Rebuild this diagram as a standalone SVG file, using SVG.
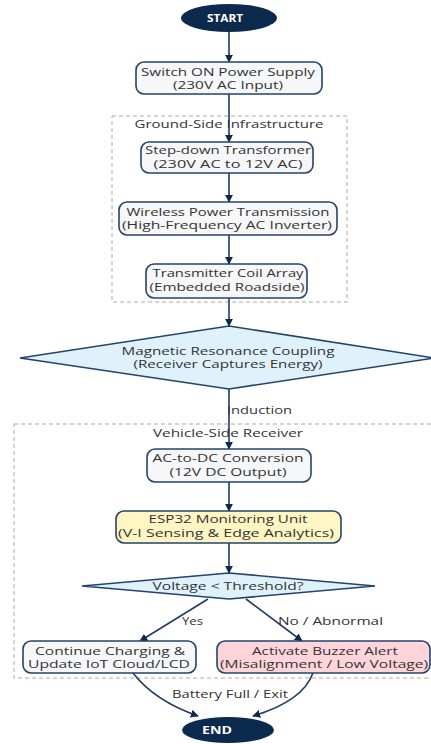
<svg xmlns="http://www.w3.org/2000/svg" width="431" height="744" viewBox="0 0 431 744">
<defs>
<style>
.node{fill:#f6f7f9;stroke:#23446b;stroke-width:1.6}
.term{fill:#0c2a4d;stroke:none}
.dia{fill:#dff2fc;stroke:#23446b;stroke-width:1.6}
.t{font-family:"Open Sans","Noto Sans",sans-serif;font-size:11px;fill:#333;text-anchor:middle}
.tw{font-family:"Open Sans","Noto Sans",sans-serif;font-size:11px;font-weight:bold;fill:#fff;text-anchor:middle}
.lbl{font-family:"Open Sans","Noto Sans",sans-serif;font-size:11px;fill:#333}
.cl{fill:none;stroke:#aaa;stroke-width:1;stroke-dasharray:4,3}
.e{fill:none;stroke:#1e3d63;stroke-width:1.6}
</style>
<marker id="ah" viewBox="0 0 10 10" refX="9" refY="5" markerWidth="8" markerHeight="8" markerUnits="userSpaceOnUse" orient="auto">
<path d="M0,0 L10,5 L0,10 z" fill="#0c2a4d"/>
</marker>
</defs>
<rect width="431" height="744" fill="#fff"/>
<g id="clusters">
<rect class="cl" x="112" y="116" width="235" height="186"/>
<text class="t" x="229" y="128" textLength="189" lengthAdjust="spacingAndGlyphs">Ground-Side Infrastructure</text>
<rect class="cl" x="14" y="424" width="430" height="254"/>
<text class="t" x="228" y="437" textLength="150" lengthAdjust="spacingAndGlyphs">Vehicle-Side Receiver</text>
</g>
<g id="connectors">
<line class="e" x1="229" y1="32" x2="229" y2="62" marker-end="url(#ah)"/>
<line class="e" x1="229" y1="94" x2="229" y2="142" marker-end="url(#ah)"/>
<line class="e" x1="229" y1="173" x2="229" y2="202" marker-end="url(#ah)"/>
<line class="e" x1="229" y1="235" x2="229" y2="264" marker-end="url(#ah)"/>
<line class="e" x1="229" y1="298" x2="229" y2="326" marker-end="url(#ah)"/>
<line class="e" x1="229" y1="389" x2="229" y2="449" marker-end="url(#ah)"/>
<line class="e" x1="229" y1="482" x2="229" y2="511" marker-end="url(#ah)"/>
<line class="e" x1="229" y1="543" x2="229" y2="573" marker-end="url(#ah)"/>
<line class="e" x1="208" y1="599" x2="140" y2="641" marker-end="url(#ah)"/>
<line class="e" x1="246" y1="599" x2="302" y2="641" marker-end="url(#ah)"/>
<path class="e" d="M133,673 C150,695 175,708 198,716" marker-end="url(#ah)"/>
<path class="e" d="M313,673 C305,695 280,708 253,716" marker-end="url(#ah)"/>
<text class="lbl" x="227" y="414" textLength="65" lengthAdjust="spacingAndGlyphs">Induction</text>
<text class="lbl" x="182" y="625" textLength="21" lengthAdjust="spacingAndGlyphs">Yes</text>
<text class="lbl" x="278" y="625" textLength="105" lengthAdjust="spacingAndGlyphs">No / Abnormal</text>
<text class="lbl" x="172" y="698" textLength="116" lengthAdjust="spacingAndGlyphs">Battery Full / Exit</text>
</g>
<g id="start">
<ellipse class="term" cx="229" cy="18" rx="48" ry="14"/>
<text class="tw" x="225" y="22" textLength="36" lengthAdjust="spacingAndGlyphs">START</text>
</g>
<g id="switch">
<rect class="node" x="136" y="62" width="186" height="32" rx="8"/>
<text class="t" x="228" y="76" textLength="174" lengthAdjust="spacingAndGlyphs">Switch ON Power Supply</text>
<text class="t" x="228" y="89" textLength="110" lengthAdjust="spacingAndGlyphs">(230V AC Input)</text>
</g>
<g id="stepdown">
<rect class="node" x="141" y="142" width="172" height="31" rx="8"/>
<text class="t" x="228" y="154" textLength="166" lengthAdjust="spacingAndGlyphs">Step-down Transformer</text>
<text class="t" x="228" y="168" textLength="149" lengthAdjust="spacingAndGlyphs">(230V AC to 12V AC)</text>
</g>
<g id="wireless">
<rect class="node" x="119" y="202" width="218" height="33" rx="8"/>
<text class="t" x="228" y="216" textLength="203" lengthAdjust="spacingAndGlyphs">Wireless Power Transmission</text>
<text class="t" x="227" y="229" textLength="210" lengthAdjust="spacingAndGlyphs">(High-Frequency AC Inverter)</text>
</g>
<g id="coil">
<rect class="node" x="146" y="264" width="161" height="34" rx="8"/>
<text class="t" x="228" y="277" textLength="151" lengthAdjust="spacingAndGlyphs">Transmitter Coil Array</text>
<text class="t" x="227" y="291" textLength="155" lengthAdjust="spacingAndGlyphs">(Embedded Roadside)</text>
</g>
<g id="resonance">
<polygon class="dia" points="20,358 229,326 434,358 229,389"/>
<text class="t" x="228" y="355" textLength="213" lengthAdjust="spacingAndGlyphs">Magnetic Resonance Coupling</text>
<text class="t" x="228" y="368" textLength="189" lengthAdjust="spacingAndGlyphs">(Receiver Captures Energy)</text>
</g>
<g id="acdc">
<rect class="node" x="147" y="449" width="164" height="33" rx="8"/>
<text class="t" x="228" y="462" textLength="151" lengthAdjust="spacingAndGlyphs">AC-to-DC Conversion</text>
<text class="t" x="228" y="476" textLength="117" lengthAdjust="spacingAndGlyphs">(12V DC Output)</text>
</g>
<g id="esp32">
<rect class="node" x="116" y="511" width="225" height="32" rx="8" style="fill:#fff6c4"/>
<text class="t" x="228" y="523" textLength="159" lengthAdjust="spacingAndGlyphs">ESP32 Monitoring Unit</text>
<text class="t" x="226" y="537" textLength="216" lengthAdjust="spacingAndGlyphs">(V-I Sensing &amp; Edge Analytics)</text>
</g>
<g id="threshold">
<polygon class="dia" points="82,586 229,573 375,586 229,599"/>
<text class="t" x="228" y="590" textLength="151" lengthAdjust="spacingAndGlyphs">Voltage &lt; Threshold?</text>
</g>
<g id="continue">
<rect class="node" x="23" y="641" width="173" height="32" rx="8"/>
<text class="t" x="110" y="655" textLength="150" lengthAdjust="spacingAndGlyphs">Continue Charging &amp;</text>
<text class="t" x="109" y="668" textLength="162" lengthAdjust="spacingAndGlyphs">Update IoT Cloud/LCD</text>
</g>
<g id="buzzer">
<rect class="node" x="217" y="641" width="213" height="32" rx="8" style="fill:#ffd4da"/>
<text class="t" x="325" y="655" textLength="146" lengthAdjust="spacingAndGlyphs">Activate Buzzer Alert</text>
<text class="t" x="324" y="668" textLength="208" lengthAdjust="spacingAndGlyphs">(Misalignment / Low Voltage)</text>
</g>
<g id="end">
<ellipse class="term" cx="228" cy="730" rx="46" ry="13"/>
<text class="tw" x="217" y="734" textLength="30" lengthAdjust="spacingAndGlyphs">END</text>
</g>
</svg>
